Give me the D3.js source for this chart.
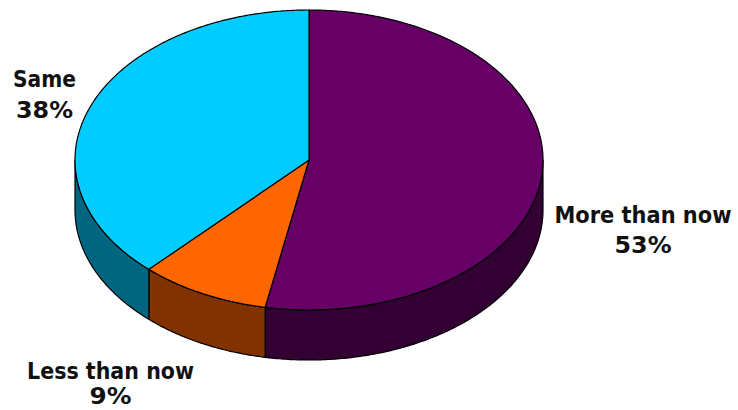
<!DOCTYPE html>
<html>
<head>
<meta charset="utf-8">
<script src="https://cdn.jsdelivr.net/npm/d3@7"></script>
<style>
  html, body { margin: 0; padding: 0; background: #ffffff; }
  svg { display: block; }
</style>
</head>
<body>
<svg id="chart" width="738" height="410"></svg>
<script>
// ---- data ----
const categories = ["More than now", "Less than now", "Same"];
const values = [53, 9, 38];
const valueLabels = ["53%", "9%", "38%"];

// ---- styles ----
const topColors = ["#660066", "#FF6600", "#00CCFF"];
const sideColors = ["#330033", "#803300", "#00667F"];

// ---- layout ----
const W = 738, H = 410;
const cx = 309, cy = 160, rx = 234, ry = 150, depth = 50;
const labelLayout = [
  { x: 643, y1: 223, y2: 253, w1: 177, w2: 57 },
  { x: 110.5, y1: 379, y2: 404, w1: 167, w2: 42 },
  { x: 44.5,  y1: 87,  y2: 118, w1: 63,  w2: 57 }
];

const svg = d3.select("#chart");

const pie = d3.pie().sort(null).value(d => d)
  .startAngle(0).endAngle(2 * Math.PI);
const arcs = pie(values);

// ellipse point for angle measured clockwise from 12 o'clock
const ex = a => cx + rx * Math.sin(a);
const ey = (a, dz = 0) => cy - ry * Math.cos(a) + dz;

function sample(a0, a1, dz) {
  const n = Math.max(2, Math.ceil(Math.abs(a1 - a0) / 0.01));
  return d3.range(n + 1).map(i => {
    const a = a0 + (a1 - a0) * i / n;
    return [ex(a), ey(a, dz)];
  });
}

const line = d3.line();

// side walls (front half: angles between PI/2 and 3PI/2)
const wallG = svg.append("g");
arcs.forEach((d, i) => {
  const a0 = Math.max(d.startAngle, Math.PI / 2);
  const a1 = Math.min(d.endAngle, 3 * Math.PI / 2);
  if (a1 <= a0) return;
  const pts = sample(a0, a1, 0).concat(sample(a1, a0, depth));
  wallG.append("path")
    .attr("d", line(pts) + "Z")
    .attr("fill", sideColors[i])
    .attr("stroke", "#000")
    .attr("stroke-width", 1.2)
    .attr("stroke-linejoin", "round");
});

// top faces
const topG = svg.append("g");
arcs.forEach((d, i) => {
  const pts = [[cx, cy]].concat(sample(d.startAngle, d.endAngle, 0));
  topG.append("path")
    .attr("d", line(pts) + "Z")
    .attr("fill", topColors[i])
    .attr("stroke", "#000")
    .attr("stroke-width", 1.2)
    .attr("stroke-linejoin", "round");
});

// labels
const labG = svg.append("g")
  .attr("font-family", "'DejaVu Sans', Verdana, sans-serif")
  .attr("font-weight", "bold")
  .attr("font-size", 21)
  .attr("fill", "#111")
  .attr("text-anchor", "middle");

categories.forEach((c, i) => {
  const L = labelLayout[i];
  labG.append("text")
    .attr("transform", `translate(${L.x},${L.y1}) scale(1,1.12)`)
    .attr("textLength", L.w1).attr("lengthAdjust", "spacingAndGlyphs")
    .text(c);
  labG.append("text")
    .attr("transform", `translate(${L.x},${L.y2}) scale(1,1.12)`)
    .attr("textLength", L.w2).attr("lengthAdjust", "spacingAndGlyphs")
    .text(valueLabels[i]);
});
</script>
</body>
</html>
